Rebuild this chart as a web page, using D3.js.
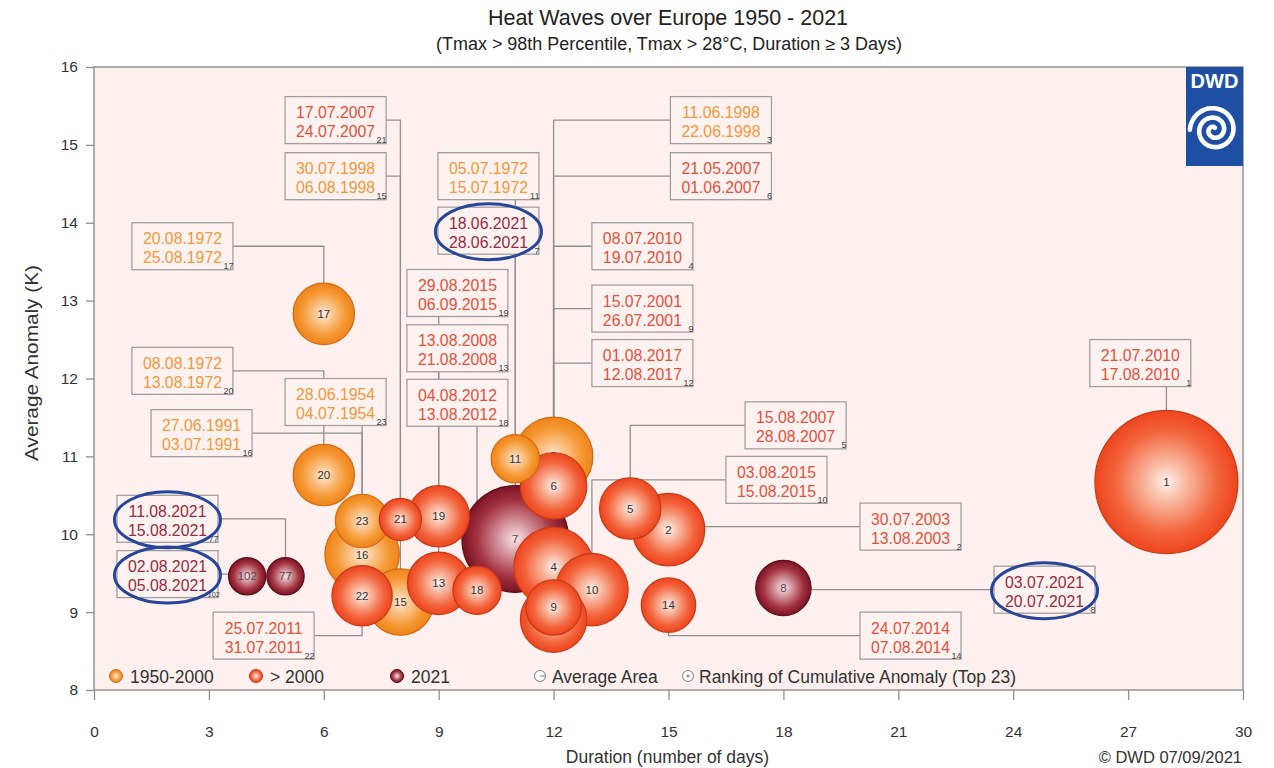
<!DOCTYPE html>
<html>
<head>
<meta charset="utf-8">
<title>Heat Waves over Europe 1950 - 2021</title>
<script src="https://cdn.jsdelivr.net/npm/d3@7"></script>
<style>
  body { margin: 0; background: #ffffff; }
  svg { display: block; font-family: "Liberation Sans", Arial, Helvetica, sans-serif; }
</style>
</head>
<body>
<svg id="chart" width="1274" height="768"></svg>
<script>
// ---- Heat wave events (ranked by cumulative anomaly) ----
const ranks      = [1, 2, 3, 4, 5, 6, 7, 8, 9, 10, 11, 12, 13, 14, 15, 16, 17, 18, 19, 20, 21, 22, 23, 77, 102];
const startDates = ["21.07.2010","30.07.2003","11.06.1998","08.07.2010","15.08.2007","21.05.2007","18.06.2021","03.07.2021",
                    "15.07.2001","03.08.2015","05.07.1972","01.08.2017","13.08.2008","24.07.2014","30.07.1998","27.06.1991",
                    "20.08.1972","04.08.2012","29.08.2015","08.08.1972","17.07.2007","25.07.2011","28.06.1954","11.08.2021","02.08.2021"];
const endDates   = ["17.08.2010","13.08.2003","22.06.1998","19.07.2010","28.08.2007","01.06.2007","28.06.2021","20.07.2021",
                    "26.07.2001","15.08.2015","15.07.1972","12.08.2017","21.08.2008","07.08.2014","06.08.1998","03.07.1991",
                    "25.08.1972","13.08.2012","06.09.2015","13.08.1972","24.07.2007","31.07.2011","04.07.1954","15.08.2021","05.08.2021"];
// 0 = 1950-2000, 1 = > 2000, 2 = 2021
const periods    = [1, 1, 0, 1, 1, 1, 2, 2, 1, 1, 0, 1, 1, 1, 0, 0, 0, 1, 1, 0, 1, 1, 0, 2, 2];
const durations  = [28, 15, 12, 12, 14, 12, 11, 18, 12, 13, 11, 12, 9, 15, 8, 7, 6, 10, 9, 6, 8, 7, 7, 5, 4];
const anomalies  = [10.67, 10.06, 11.0, 9.58, 10.33, 10.62, 9.94, 9.31, 9.06, 9.29, 10.97, 8.91, 9.37, 9.09, 9.13, 9.74,
                    12.83, 9.28, 10.23, 10.76, 10.19, 9.21, 10.17, 9.46, 9.46];
// average affected area, relative to the 2010 event (= 100)
const avgAreas   = [100, 25.7, 30.2, 30.9, 18.4, 21.6, 55.7, 15.0, 15.0, 25.7, 11.4, 21.6, 19.1, 14.5, 21.6, 27.1,
                    18.4, 11.4, 18.4, 18.4, 8.7, 17.8, 14.0, 6.8, 6.8];

const periodNames = ["1950-2000", "> 2000", "2021"];
const xTicks = [0, 3, 6, 9, 12, 15, 18, 21, 24, 27, 30];
const yTicks = [8, 9, 10, 11, 12, 13, 14, 15, 16];

// ---- Date label placement (top-left corner of each box, in axis units) ----
const boxDays   = [26.0, 20.0, 15.05, 13.0, 17.0, 15.05, 8.98, 23.5, 13.0, 16.5, 8.98, 13.0, 8.17, 20.0, 4.99, 1.49,
                   0.99, 8.17, 8.17, 0.99, 4.99, 3.11, 4.99, 0.6, 0.6];
const boxAnoms  = [12.5, 10.4, 15.62, 14.0, 11.7, 14.9, 14.2, 9.59, 13.2, 11.0, 14.9, 12.5, 12.69, 9.0, 14.9, 11.6,
                   14.0, 11.99, 13.4, 12.4, 15.62, 9.0, 12.0, 10.5, 9.79];
const boxSides  = ["bottom","left","left","left","left","left","bottom","left","left","left","bottom","left","bottom","left",
                   "right","right","right","bottom","bottom","right","right","right","bottom","right","right"];

// ---- Styles ----
const bubbleStops = [
  [["0%", "#fdeede"], ["28%", "#fbc893"], ["72%", "#f59833"], ["100%", "#f0841a"]],
  [["0%", "#fdf2ee"], ["28%", "#f9b8a0"], ["72%", "#f3643c"], ["100%", "#ee451d"]],
  [["0%", "#f6e6e8"], ["28%", "#d99ea7"], ["72%", "#a3323f"], ["100%", "#7b1424"]]
];
const bubbleStroke = ["#cf6a12", "#c43a18", "#5c0b17"];
const dateColor = ["#f0983a", "#e3513b", "#962c3d"];
const BOX_W = 101, BOX_H = 47;

const svg = d3.select("#chart");

const x = d3.scaleLinear().domain([0, 30]).range([94, 1243]);
const y = d3.scaleLinear().domain([8, 16]).range([690, 67]);
const r = d3.scaleSqrt().domain([0, 100]).range([0, 71.5]);

const events = ranks.map((rank, i) => ({
  rank, start: startDates[i], end: endDates[i], period: periods[i],
  days: durations[i], anom: anomalies[i], area: avgAreas[i],
  bx: boxDays[i], by: boxAnoms[i], side: boxSides[i]
}));

// gradients for the shaded bubbles
const defs = svg.append("defs");
bubbleStops.forEach((stops, p) => {
  const g = defs.append("radialGradient").attr("id", "bubble-" + p)
    .attr("cx", "50%").attr("cy", "50%").attr("r", "50%").attr("fx", "50%").attr("fy", "50%");
  stops.forEach(s => g.append("stop").attr("offset", s[0]).attr("stop-color", s[1]));
});

// plot background
svg.append("rect").attr("x", x(0)).attr("y", y(16))
  .attr("width", x(30) - x(0)).attr("height", y(8) - y(16))
  .attr("fill", "#fdf0ee");

// leader lines from the date boxes to the bubbles
const lines = svg.append("g").attr("fill", "none").attr("stroke", "#8f8f8f").attr("stroke-width", 1.3);
events.forEach(e => {
  const left = x(e.bx), top = y(e.by), cx = x(e.days), cy = y(e.anom);
  const midY = top + BOX_H / 2;
  let pts;
  if (e.side === "bottom") pts = [[cx, top + BOX_H], [cx, cy]];
  else if (e.side === "left") pts = [[left, midY], [cx, midY], [cx, cy]];
  else pts = [[left + BOX_W, midY], [cx, midY], [cx, cy]];
  lines.append("path").attr("d", d3.line()(pts));
});

// bubbles, largest first so the small ones stay visible
const bubbles = svg.append("g");
const sorted = events.slice().sort((a, b) => b.area - a.area);
sorted.forEach(e => {
  const g = bubbles.append("g").attr("transform", `translate(${x(e.days)},${y(e.anom)})`);
  g.append("circle").attr("r", r(e.area))
    .attr("fill", `url(#bubble-${e.period})`)
    .attr("stroke", bubbleStroke[e.period]).attr("stroke-width", 1.2);
  g.append("text").attr("text-anchor", "middle").attr("dy", "0.35em")
    .attr("font-size", 11.5).attr("fill", e.period === 2 ? "#5a4a4c" : "#333")
    .text(e.rank);
});

// date boxes with the rank as a small index in the lower right corner
const boxes = svg.append("g");
events.forEach(e => {
  const left = x(e.bx), top = y(e.by);
  const g = boxes.append("g").attr("transform", `translate(${left},${top})`);
  g.append("rect").attr("width", BOX_W).attr("height", BOX_H)
    .attr("fill", "#fdf2f0").attr("stroke", "#a0a0a0").attr("stroke-width", 1.3);
  g.append("text").attr("x", BOX_W / 2).attr("y", 21.5).attr("text-anchor", "middle")
    .attr("font-size", 15.8).attr("fill", dateColor[e.period]).text(e.start);
  g.append("text").attr("x", BOX_W / 2).attr("y", 40.5).attr("text-anchor", "middle")
    .attr("font-size", 15.8).attr("fill", dateColor[e.period]).text(e.end);
  const wide = e.rank >= 100;
  g.append("text").attr("x", BOX_W + (wide ? 2 : 0.5)).attr("y", BOX_H - 0.5).attr("text-anchor", "end")
    .attr("font-size", wide ? 7.5 : 9).attr("fill", "#444").text(e.rank);
});

// highlight rings around the 2021 events
const rings = svg.append("g").attr("fill", "none").attr("stroke", "#27469a").attr("stroke-width", 3);
events.filter(e => e.period === 2).forEach(e => {
  rings.append("ellipse")
    .attr("cx", x(e.bx) + BOX_W / 2).attr("cy", y(e.by) + BOX_H / 2 + 1)
    .attr("rx", 53).attr("ry", 28);
});

// frame
svg.append("rect").attr("x", x(0)).attr("y", y(16))
  .attr("width", x(30) - x(0)).attr("height", y(8) - y(16))
  .attr("fill", "none").attr("stroke", "#9a9a9a").attr("stroke-width", 1.6);

// axes
const yAxis = svg.append("g").attr("transform", `translate(${x(0)},0)`)
  .call(d3.axisLeft(y).tickValues(yTicks).tickSize(8).tickPadding(8).tickFormat(d3.format("d")));
const xAxis = svg.append("g").attr("transform", `translate(0,${y(8)})`)
  .call(d3.axisBottom(x).tickValues(xTicks).tickSize(10).tickPadding(26).tickFormat(d3.format("d")));
[yAxis, xAxis].forEach(a => {
  a.select(".domain").remove();
  a.selectAll(".tick line").attr("stroke", "#8f8f8f").attr("stroke-width", 1.3);
  a.selectAll(".tick text").attr("font-size", 15.5).attr("fill", "#333")
    .attr("font-family", "'Liberation Sans', Arial, sans-serif");
});

// axis titles
svg.append("text").attr("x", (x(0) + x(30)) / 2 - 1).attr("y", 763).attr("text-anchor", "middle")
  .attr("font-size", 17.5).attr("fill", "#333").text("Duration (number of days)");
svg.append("text").attr("transform", "translate(38,363) rotate(-90)").attr("text-anchor", "middle")
  .attr("font-size", 18).attr("fill", "#333")
  .attr("textLength", 196).attr("lengthAdjust", "spacingAndGlyphs")
  .text("Average Anomaly (K)");
svg.append("text").attr("x", 1242).attr("y", 763).attr("text-anchor", "end")
  .attr("font-size", 16.5).attr("fill", "#333").text("© DWD 07/09/2021");

// titles
svg.append("text").attr("x", 668).attr("y", 25).attr("text-anchor", "middle")
  .attr("font-size", 21.5).attr("fill", "#222").text("Heat Waves over Europe 1950 - 2021");
svg.append("text").attr("x", 669).attr("y", 50).attr("text-anchor", "middle")
  .attr("font-size", 17.5).attr("fill", "#222")
  .attr("textLength", 466).attr("lengthAdjust", "spacingAndGlyphs")
  .text("(Tmax > 98th Percentile, Tmax > 28°C, Duration ≥ 3 Days)");

// legend
const legend = svg.append("g").attr("font-size", 17.5).attr("fill", "#333");
const legendY = 676;
const legendMarkX = [116, 256, 397];
periodNames.forEach((name, p) => {
  legend.append("circle").attr("cx", legendMarkX[p]).attr("cy", legendY).attr("r", 6.5)
    .attr("fill", `url(#bubble-${p})`).attr("stroke", bubbleStroke[p]).attr("stroke-width", 1);
  legend.append("text").attr("x", legendMarkX[p] + 14).attr("y", legendY + 6.5).text(name);
});
const iconStroke = "#888";
legend.append("circle").attr("cx", 540).attr("cy", legendY).attr("r", 5.5)
  .attr("fill", "#fff").attr("stroke", iconStroke).attr("stroke-width", 1.1);
legend.append("line").attr("x1", 540).attr("y1", legendY).attr("x2", 545.5).attr("y2", legendY)
  .attr("stroke", iconStroke).attr("stroke-width", 1.1);
legend.append("text").attr("x", 552).attr("y", legendY + 6.5).text("Average Area");
legend.append("circle").attr("cx", 688).attr("cy", legendY).attr("r", 5.5)
  .attr("fill", "#fff").attr("stroke", iconStroke).attr("stroke-width", 1.1);
legend.append("circle").attr("cx", 688).attr("cy", legendY).attr("r", 1.5).attr("fill", iconStroke);
legend.append("text").attr("x", 699).attr("y", legendY + 6.5).text("Ranking of Cumulative Anomaly (Top 23)");

// DWD logo in the upper right corner
const logo = svg.append("g").attr("transform", `translate(${x(30) - 57},${y(16)})`);
logo.append("rect").attr("width", 57).attr("height", 99).attr("fill", "#1f4fa2");
logo.append("text").attr("x", 28.5).attr("y", 21).attr("text-anchor", "middle")
  .attr("font-size", 20).attr("font-weight", "bold").attr("fill", "#fff").text("DWD");
const spiral = d3.range(0, 14.6, 0.1).map(t => {
  const rr = 2.4 + 1.5 * t;
  return [28 + rr * Math.cos(t + 1.2), 63 - rr * Math.sin(t + 1.2)];
});
logo.append("path").attr("d", d3.line().curve(d3.curveBasis)(spiral))
  .attr("fill", "none").attr("stroke", "#fff").attr("stroke-width", 4.6).attr("stroke-linecap", "round");
</script>
</body>
</html>
